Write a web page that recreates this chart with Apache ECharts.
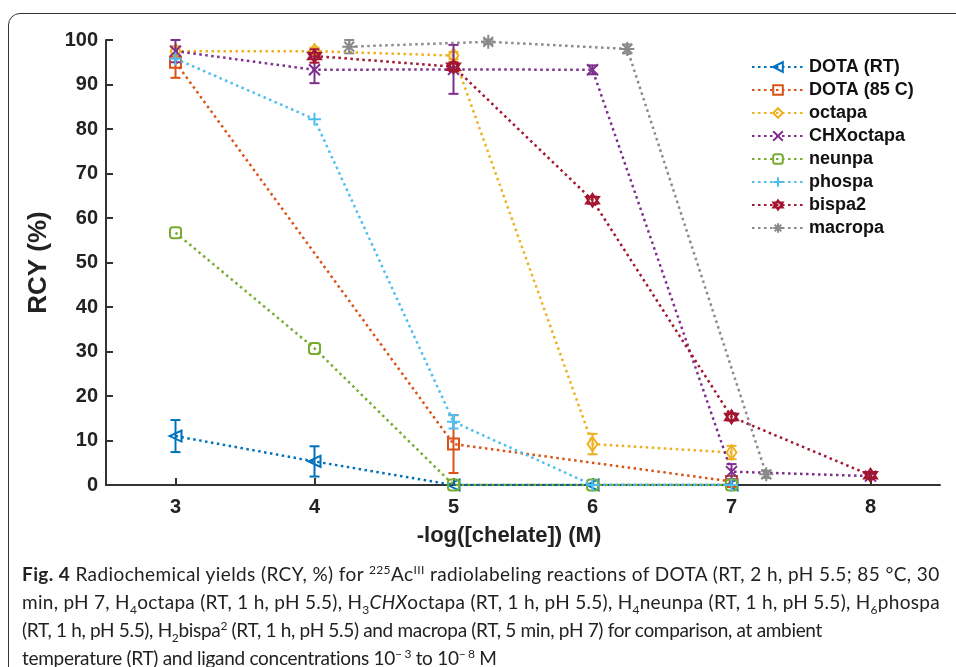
<!DOCTYPE html>
<html>
<head>
<meta charset="utf-8">
<script src="https://cdn.jsdelivr.net/npm/echarts@6/dist/echarts.min.js"></script>
<style>
body { margin: 0; background: #fff; }
#chart { position: absolute; left: 0; top: 0; width: 956px; height: 667px; }
#frame {
    position: absolute; left: 8px; top: 13px; width: 1000px; height: 700px;
    border: 1.5px solid #333; border-radius: 12px; pointer-events: none;
}
#caption {
    position: absolute; left: 22px; top: 560px;
    font-family: Lato, "Open Sans", sans-serif; font-size: 19px; color: #222;
    line-height: 28px;
}
#caption div { white-space: nowrap; display: table; }
#caption sup, #caption sub { font-size: 12px; line-height: 0; }
</style>
</head>
<body>
<div id="chart"></div>
<div id="frame"></div>
<div id="caption">
    <div data-w="918"><b>Fig. 4</b> Radiochemical yields (RCY, %) for <sup>225</sup>Ac<sup>III</sup> radiolabeling reactions of DOTA (RT, 2 h, pH 5.5; 85 °C, 30</div>
    <div data-w="918">min, pH 7, H<sub>4</sub>octapa (RT, 1 h, pH 5.5), H<sub>3</sub><i>CHX</i>octapa (RT, 1 h, pH 5.5), H<sub>4</sub>neunpa (RT, 1 h, pH 5.5), H<sub>6</sub>phospa</div>
    <div data-w="800">(RT, 1 h, pH 5.5), H<sub>2</sub>bispa<sup>2</sup> (RT, 1 h, pH 5.5) and macropa (RT, 5 min, pH 7) for comparison, at ambient</div>
    <div data-w="475">temperature (RT) and ligand concentrations 10<sup>− 3</sup> to 10<sup>− 8</sup> M</div>
</div>
<script>
// 数据
var xTicks = [3, 4, 5, 6, 7, 8];
var yTicks = [0, 10, 20, 30, 40, 50, 60, 70, 80, 90, 100];

var names = ['DOTA (RT)', 'DOTA (85 C)', 'octapa', 'CHXoctapa', 'neunpa', 'phospa', 'bispa2', 'macropa'];
var colors = ['#0072BD', '#D95319', '#EDB120', '#7E2F8E', '#77AC30', '#4DBEEE', '#A2142F', '#8a8a8a'];

var xDotaRT = [3, 4, 5, 6, 7];
var yDotaRT = [11, 5.3, 0, 0, 0];
var eDotaRT = [3.6, 3.4, 0, 0, 0];

var xDota85 = [3, 5, 7];
var yDota85 = [95, 9.2, 0.8];
var eDota85 = [3.5, 6.5, 0];

var xOctapa = [3, 4, 5, 6, 7];
var yOctapa = [97.5, 97.5, 96.5, 9.2, 7.3];
var eOctapa = [0.8, 0.8, 0.8, 2.3, 1.5];

var xChx = [3, 4, 5, 6, 7, 8];
var yChx = [97.5, 93.3, 93.4, 93.3, 3, 2];
var eChx = [2.5, 3, 5.5, 1, 1.7, 0];

var xNeunpa = [3, 4, 5, 6, 7];
var yNeunpa = [56.7, 30.7, 0, 0, 0];

var xPhospa = [3, 4, 5, 6, 7];
var yPhospa = [95.8, 82.2, 14.2, 0, 0];
var ePhospa = [0, 0, 1.5, 0, 0];

var xBispa = [4, 5, 6, 7, 8];
var yBispa = [96.4, 94, 64, 15.3, 2.2];
var eBispa = [1.5, 1, 0.8, 0.8, 0.5];

var xMacropa = [4.25, 5.25, 6.25, 7.25];
var yMacropa = [98.5, 99.6, 98, 2.4];
var eMacropa = [1.5, 0.5, 1, 0.8];

var seriesX = [xDotaRT, xDota85, xOctapa, xChx, xNeunpa, xPhospa, xBispa, xMacropa];
var seriesY = [yDotaRT, yDota85, yOctapa, yChx, yNeunpa, yPhospa, yBispa, yMacropa];
var seriesE = [eDotaRT, eDota85, eOctapa, eChx, null, ePhospa, eBispa, eMacropa];

var symbols = [
    'triangle',
    'rect',
    'diamond',
    'path://M0,0L10,10M10,0L0,10',
    'roundRect',
    'path://M5,0L5,10M0,5L10,5',
    'path://M5,0L9.33,7.5L0.67,7.5Z M5,10L9.33,2.5L0.67,2.5Z',
    'path://M5,0L5,10M0,5L10,5M1.5,1.5L8.5,8.5M1.5,8.5L8.5,1.5'
];
var symbolSizes = [[11, 12], 11, [10, 14], 11, 11, 13, 13, 14];
var symbolRotates = [90, 0, 0, 0, 0, 0, 0, 0];

// 图注每行拉到原图宽度
var lines = document.querySelectorAll('#caption div');
for (var j = 0; j < lines.length; j++) {
    var target = +lines[j].getAttribute('data-w');
    var n = lines[j].textContent.length;
    var w = lines[j].getBoundingClientRect().width;
    lines[j].style.letterSpacing = ((target - w) / n) + 'px';
}

var chart = echarts.init(document.getElementById('chart'));

var series = [];
// 折线
for (var i = 0; i < names.length; i++) {
    var pts = [];
    for (var k = 0; k < seriesX[i].length; k++) {
        pts.push([seriesX[i][k], seriesY[i][k]]);
    }
    series.push({
        type: 'line',
        name: names[i],
        data: pts,
        symbol: symbols[i],
        symbolSize: symbolSizes[i],
        symbolRotate: symbolRotates[i],
        showAllSymbol: true,
        z: 2 + i,
        lineStyle: { color: colors[i], width: 2.5, type: [2.5, 3.5] },
        itemStyle: { color: 'rgba(255,255,255,0)', borderColor: colors[i], borderWidth: 2 },
        emphasis: { disabled: true },
        animation: false
    });
}
// 误差棒
for (var i = 0; i < names.length; i++) {
    if (!seriesE[i]) continue;
    var errs = [];
    for (var k = 0; k < seriesX[i].length; k++) {
        if (seriesE[i][k] > 0) {
            errs.push([seriesX[i][k], seriesY[i][k] - seriesE[i][k], seriesY[i][k] + seriesE[i][k]]);
        }
    }
    (function (c) {
        series.push({
            type: 'custom',
            name: names[i],
            data: errs,
            z: 2 + i,
            animation: false,
            renderItem: function (params, api) {
                var top = api.coord([api.value(0), api.value(2)]);
                var bot = api.coord([api.value(0), api.value(1)]);
                var w = 5;
                var st = { stroke: c, lineWidth: 2, fill: null };
                return {
                    type: 'group',
                    children: [
                        { type: 'line', shape: { x1: top[0], y1: top[1], x2: bot[0], y2: bot[1] }, style: st },
                        { type: 'line', shape: { x1: top[0] - w, y1: top[1], x2: top[0] + w, y2: top[1] }, style: st },
                        { type: 'line', shape: { x1: bot[0] - w, y1: bot[1], x2: bot[0] + w, y2: bot[1] }, style: st }
                    ]
                };
            }
        });
    })(colors[i]);
}

chart.setOption({
    animation: false,
    grid: { left: 106, right: 16, top: 40, bottom: 182 },
    legend: {
        data: names,
        orient: 'vertical',
        left: 746,
        top: 53,
        itemGap: 5,
        itemWidth: 52,
        itemHeight: 12,
        textStyle: { fontFamily: 'Liberation Sans', fontWeight: 'bold', fontSize: 18, color: '#111' }
    },
    xAxis: {
        type: 'value',
        min: 2.5,
        max: 8.5,
        name: '-log([chelate]) (M)',
        nameLocation: 'middle',
        nameGap: 40,
        nameTextStyle: { fontFamily: 'Liberation Sans', fontWeight: 'bold', fontSize: 22, color: '#222', padding: [0, 28, 0, 0] },
        splitLine: { show: false },
        axisLine: { lineStyle: { color: '#333', width: 2 } },
        axisTick: { inside: true, length: 7, customValues: xTicks, lineStyle: { color: '#333', width: 2 } },
        axisLabel: { customValues: xTicks, margin: 12, fontFamily: 'Liberation Sans', fontWeight: 'bold', fontSize: 20, color: '#222' }
    },
    yAxis: {
        type: 'value',
        min: 0,
        max: 100,
        interval: 10,
        name: 'RCY (%)',
        nameLocation: 'middle',
        nameGap: 54,
        nameTextStyle: { fontFamily: 'Liberation Sans', fontWeight: 'bold', fontSize: 26, color: '#222' },
        splitLine: { show: false },
        axisLine: { show: true, lineStyle: { color: '#333', width: 2 } },
        axisTick: { show: true, inside: true, length: 7, lineStyle: { color: '#333', width: 2 } },
        axisLabel: { margin: 8, fontFamily: 'Liberation Sans', fontWeight: 'bold', fontSize: 20, color: '#222',
            formatter: function (v) { return yTicks.indexOf(v) >= 0 ? v : ''; } }
    },
    series: series
});
</script>
</body>
</html>
